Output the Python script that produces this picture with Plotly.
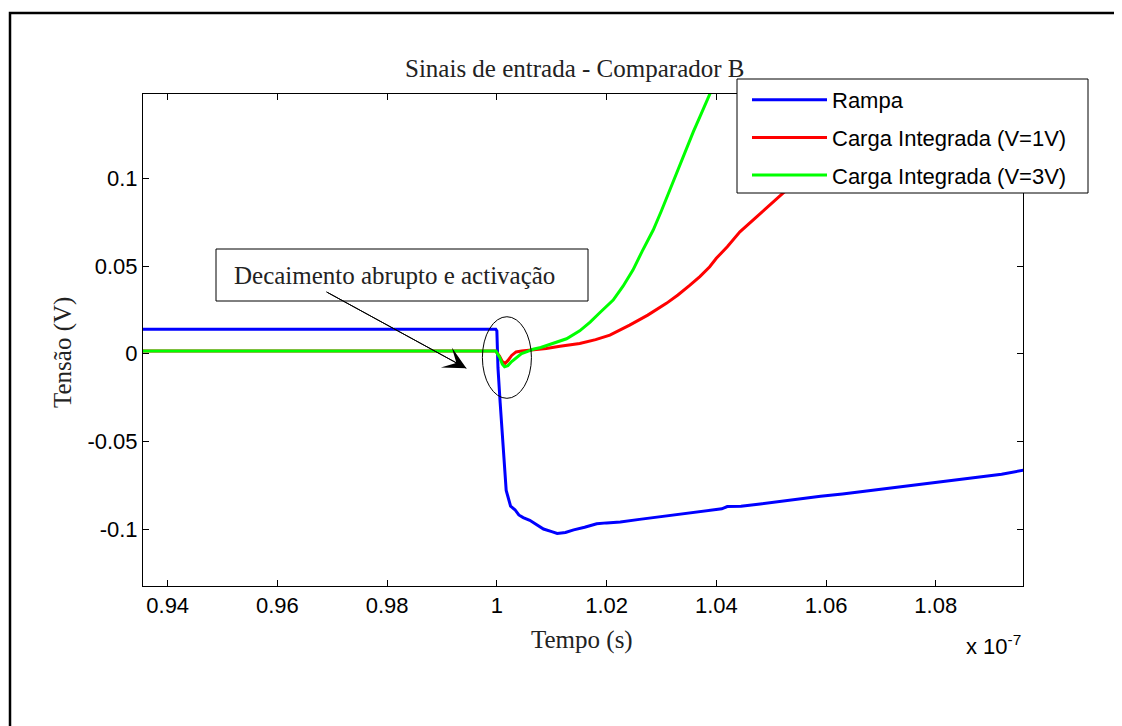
import plotly.graph_objects as go

# time in units of 1e-7 s
rampa_x = [0.9355, 0.9998, 1.0000, 1.0002, 1.0006, 1.0010, 1.00125, 1.0017, 1.0025, 1.0033,
           1.0040, 1.0048, 1.0060, 1.0070, 1.0085, 1.0100, 1.0110, 1.0125, 1.0140, 1.0160,
           1.0182, 1.0200, 1.0225, 1.0260, 1.0300, 1.0340, 1.0370, 1.0410, 1.0420, 1.0445,
           1.0480, 1.0520, 1.0560, 1.0590, 1.0630, 1.0665, 1.0700, 1.0735, 1.0770, 1.0810,
           1.0845, 1.0880, 1.0920, 1.0960]
rampa_y = [0.014, 0.014, 0.013, -0.008, -0.028, -0.047, -0.062, -0.078, -0.087, -0.089,
           -0.092, -0.0935, -0.095, -0.097, -0.100, -0.1015, -0.1025, -0.102, -0.1005, -0.099,
           -0.097, -0.0965, -0.096, -0.0945, -0.093, -0.0915, -0.090, -0.0885, -0.0872, -0.087,
           -0.0857, -0.084, -0.0825, -0.0813, -0.080, -0.0787, -0.0773, -0.076, -0.0748, -0.0732,
           -0.0718, -0.0703, -0.0688, -0.0664]

v1_x = [0.9355, 0.9998, 1.0005, 1.0010, 1.0015, 1.0020, 1.0027, 1.0035, 1.0045, 1.0055,
        1.0070, 1.0090, 1.0115, 1.0151, 1.0180, 1.0206, 1.0242, 1.0275, 1.0309, 1.0330,
        1.0352, 1.0370, 1.0388, 1.0400, 1.0420, 1.0443, 1.0475, 1.0507, 1.0540, 1.0580,
        1.0620, 1.0660, 1.0700, 1.0740]
v1_y = [0.0015, 0.0015, -0.0015, -0.0045, -0.0055, -0.004, -0.001, 0.001, 0.0015, 0.0018,
        0.0022, 0.0030, 0.0042, 0.0058, 0.0080, 0.0106, 0.0163, 0.0220, 0.0287, 0.0335,
        0.0391, 0.0440, 0.0496, 0.0544, 0.0610, 0.0695, 0.0785, 0.0876, 0.0970, 0.1080,
        0.1190, 0.1300, 0.1410, 0.1520]

v3_x = [0.9355, 0.9998, 1.0005, 1.0010, 1.0014, 1.0020, 1.0027, 1.0035, 1.0045, 1.0055,
        1.0066, 1.0080, 1.0095, 1.0110, 1.0127, 1.0151, 1.0170, 1.0188, 1.0212, 1.0230,
        1.0248, 1.0265, 1.0285, 1.0300, 1.0315, 1.0330, 1.0346, 1.0358, 1.0370, 1.0380,
        1.0388, 1.0395]
v3_y = [0.0015, 0.0015, -0.002, -0.006, -0.0075, -0.0068, -0.0045, -0.0025, 0.0, 0.0012,
        0.0025, 0.0035, 0.0050, 0.0065, 0.0085, 0.0130, 0.0180, 0.0235, 0.0306, 0.0385,
        0.0477, 0.0585, 0.0705, 0.0815, 0.0933, 0.1055, 0.1180, 0.1265, 0.1350, 0.1420,
        0.1480, 0.1530]

x_ticks = [0.94, 0.96, 0.98, 1.00, 1.02, 1.04, 1.06, 1.08]
x_ticktext = ["0.94", "0.96", "0.98", "1", "1.02", "1.04", "1.06", "1.08"]
y_ticks = [-0.1, -0.05, 0, 0.05, 0.1]
y_ticktext = ["-0.1", "-0.05", "0", "0.05", "0.1"]

# arrow of the "Decaimento abrupto" note (data coords: tail, tip)
arrow_tail = (0.9689, 0.0353)
arrow_tip = (0.99444, -0.00835)

SANS = "Liberation Sans, Arial, sans-serif"
SERIF = "Liberation Serif, Times New Roman, serif"

# page is rendered with an 8px body margin; plot area: page x 143..1023, y 94..586
PX0, PY0, PW, PH = 143.0, 94.0, 880.0, 492.0


def px(xp):
    return (xp - PX0) / PW


def py(yp):
    return 1 - (yp - PY0) / PH


fig = go.Figure()
fig.add_trace(go.Scatter(x=rampa_x, y=rampa_y, mode="lines", name="Rampa",
                         line=dict(color="#0000ff", width=3), legendgroup="a"))
fig.add_trace(go.Scatter(x=v1_x, y=v1_y, mode="lines", name="Carga Integrada (V=1V)",
                         line=dict(color="#ff0000", width=3), legendgroup="b"))
fig.add_trace(go.Scatter(x=v3_x, y=v3_y, mode="lines", name="Carga Integrada (V=3V)",
                         line=dict(color="#00ff00", width=3), legendgroup="c"))

axis_common = dict(showline=True, linecolor="black", linewidth=1, mirror="ticks",
                   ticks="inside", ticklen=6, tickwidth=1, tickcolor="black",
                   showgrid=False, zeroline=False,
                   tickfont=dict(family=SANS, size=22, color="black"))

fig.update_xaxes(range=[0.9355, 1.0959], tickvals=x_ticks, ticktext=x_ticktext, **axis_common)
fig.update_yaxes(range=[-0.1325, 0.1481], tickvals=y_ticks, ticktext=y_ticktext, **axis_common)

shapes = [
    # outer figure border
    dict(type="rect", xref="paper", yref="paper",
         x0=px(10), x1=px(1121), y0=py(760), y1=py(13),
         line=dict(color="black", width=2.5), fillcolor="rgba(0,0,0,0)", layer="below"),
    # legend box
    dict(type="rect", xref="paper", yref="paper",
         x0=px(737), x1=px(1088), y0=py(193), y1=py(79),
         line=dict(color="black", width=1), fillcolor="white", layer="above"),
    # annotation text box
    dict(type="rect", xref="paper", yref="paper",
         x0=px(216), x1=px(588), y0=py(301), y1=py(249),
         line=dict(color="black", width=1), fillcolor="rgba(0,0,0,0)", layer="above"),
    # arrow shaft
    dict(type="line", xref="x", yref="y",
         x0=arrow_tail[0], y0=arrow_tail[1], x1=arrow_tip[0], y1=arrow_tip[1],
         line=dict(color="black", width=1), layer="above"),
    # ellipse
    dict(type="circle", xref="x", yref="y", x0=0.99736, x1=1.0063, y0=-0.02546, y1=0.02107,
         line=dict(color="black", width=1), fillcolor="rgba(0,0,0,0)", layer="above"),
]

annotations = [
    dict(text="Sinais de entrada - Comparador B", xref="paper", yref="paper",
         x=px(575), y=py(68), xanchor="center", yanchor="middle",
         showarrow=False, font=dict(family=SERIF, size=25, color="#222222")),
    dict(text="Tempo (s)", xref="paper", yref="paper",
         x=px(582), y=py(640), xanchor="center", yanchor="middle",
         showarrow=False, font=dict(family=SERIF, size=25, color="#222222")),
    dict(text="Tensão (V)", xref="paper", yref="paper", textangle=-90,
         x=px(63), y=py(353), xanchor="center", yanchor="middle",
         showarrow=False, font=dict(family=SERIF, size=25, color="#222222")),
    dict(text="x 10<sup>-7</sup>", xref="paper", yref="paper",
         x=px(1023), y=py(645), xanchor="right", yanchor="middle",
         showarrow=False, font=dict(family=SANS, size=22, color="black")),
    dict(text="Decaimento abrupto e activação", xref="paper", yref="paper",
         x=px(394), y=py(275), xanchor="center", yanchor="middle",
         showarrow=False, font=dict(family=SERIF, size=25, color="#222222")),
    dict(text="", xref="x", yref="y", x=arrow_tip[0], y=arrow_tip[1],
         axref="x", ayref="y", ax=arrow_tail[0], ay=arrow_tail[1],
         showarrow=True, arrowhead=3, arrowsize=3.8, arrowwidth=1, arrowcolor="black",
         standoff=0, startstandoff=0),
]

fig.update_layout(
    width=1114, height=718,
    margin=dict(l=135, r=99, t=86, b=140),
    paper_bgcolor="white", plot_bgcolor="white",
    shapes=shapes, annotations=annotations,
    legend=dict(x=px(747), y=py(79), xanchor="left", yanchor="top",
                bgcolor="rgba(0,0,0,0)", borderwidth=0,
                font=dict(family=SANS, size=22, color="black"),
                itemwidth=75, tracegroupgap=6),
    showlegend=True,
)

fig.write_html("out.html")
